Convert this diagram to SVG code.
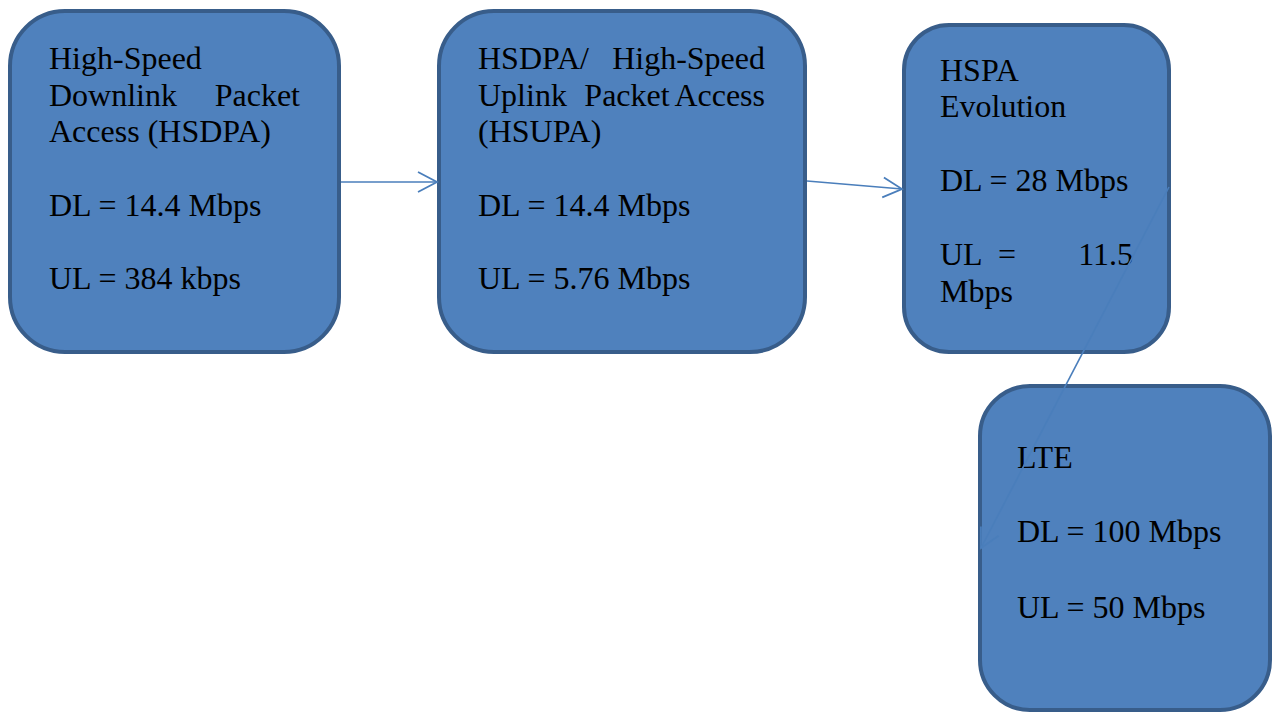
<svg xmlns="http://www.w3.org/2000/svg" width="1273" height="712" viewBox="0 0 1273 712">
  <style>
    .box { fill: #4f81bd; stroke: #385d8a; stroke-width: 4; }
    .t { font-family: "Liberation Serif", "Times New Roman", serif; font-size: 32px; fill: #000; }
    .end { text-anchor: end; }
    .mid { text-anchor: middle; }
    .conn { fill: none; stroke: #4a7ebb; stroke-width: 1.6; }
  </style>
  <defs>
    <marker id="openArrow" markerUnits="userSpaceOnUse" markerWidth="26" markerHeight="26" viewBox="-22 -13 24 26" refX="0" refY="0" orient="auto">
      <path d="M-19,-10 L0,0 L-19,10" fill="none" stroke="#4a7ebb" stroke-width="1.8"/>
    </marker>
  </defs>

  <!-- HSDPA -->
  <g id="node-hsdpa">
    <rect class="box" x="10" y="11" width="329" height="341" rx="55" ry="55"/>
    <text class="t" x="49" y="69">High-Speed</text>
    <text class="t" x="49" y="106">Downlink</text>
    <text class="t end" x="300" y="106">Packet</text>
    <text class="t" x="49" y="142">Access (HSDPA)</text>
    <text class="t" x="49" y="216">DL = 14.4 Mbps</text>
    <text class="t" x="49" y="289">UL = 384 kbps</text>
  </g>

  <!-- HSDPA / HSUPA -->
  <g id="node-hsupa">
    <rect class="box" x="439" y="11" width="366" height="341" rx="55" ry="55"/>
    <text class="t" x="478" y="69">HSDPA/</text>
    <text class="t end" x="765" y="69">High-Speed</text>
    <text class="t" x="478" y="106">Uplink</text>
    <text class="t mid" x="627" y="106">Packet</text>
    <text class="t end" x="765" y="106">Access</text>
    <text class="t" x="478" y="142">(HSUPA)</text>
    <text class="t" x="478" y="216">DL = 14.4 Mbps</text>
    <text class="t" x="478" y="289">UL = 5.76 Mbps</text>
  </g>

  <!-- HSPA Evolution -->
  <g id="node-hspa-evolution">
    <rect class="box" x="904" y="25" width="265" height="327" rx="45" ry="45"/>
    <text class="t" x="940" y="81">HSPA</text>
    <text class="t" x="940" y="117">Evolution</text>
    <text class="t" x="940" y="191">DL = 28 Mbps</text>
    <text class="t" x="940" y="265">UL</text>
    <text class="t mid" x="1007" y="265">=</text>
    <text class="t end" x="1133" y="265">11.5</text>
    <text class="t" x="940" y="302">Mbps</text>
  </g>

  <!-- LTE -->
  <g id="node-lte">
    <rect class="box" x="980" y="386" width="290" height="324" rx="50" ry="50"/>
    <text class="t" x="1017" y="468">LTE</text>
    <text class="t" x="1017" y="542">DL = 100 Mbps</text>
    <text class="t" x="1017" y="618">UL = 50 Mbps</text>
  </g>

  <!-- connectors -->
  <g id="connectors">
    <line class="conn" x1="341" y1="182" x2="437" y2="182" marker-end="url(#openArrow)"/>
    <line class="conn" x1="807" y1="181" x2="902" y2="189" marker-end="url(#openArrow)"/>
    <line class="conn" x1="1169" y1="187" x2="981" y2="548" stroke-width="1.2" marker-end="url(#openArrow)"/>
  </g>
</svg>
